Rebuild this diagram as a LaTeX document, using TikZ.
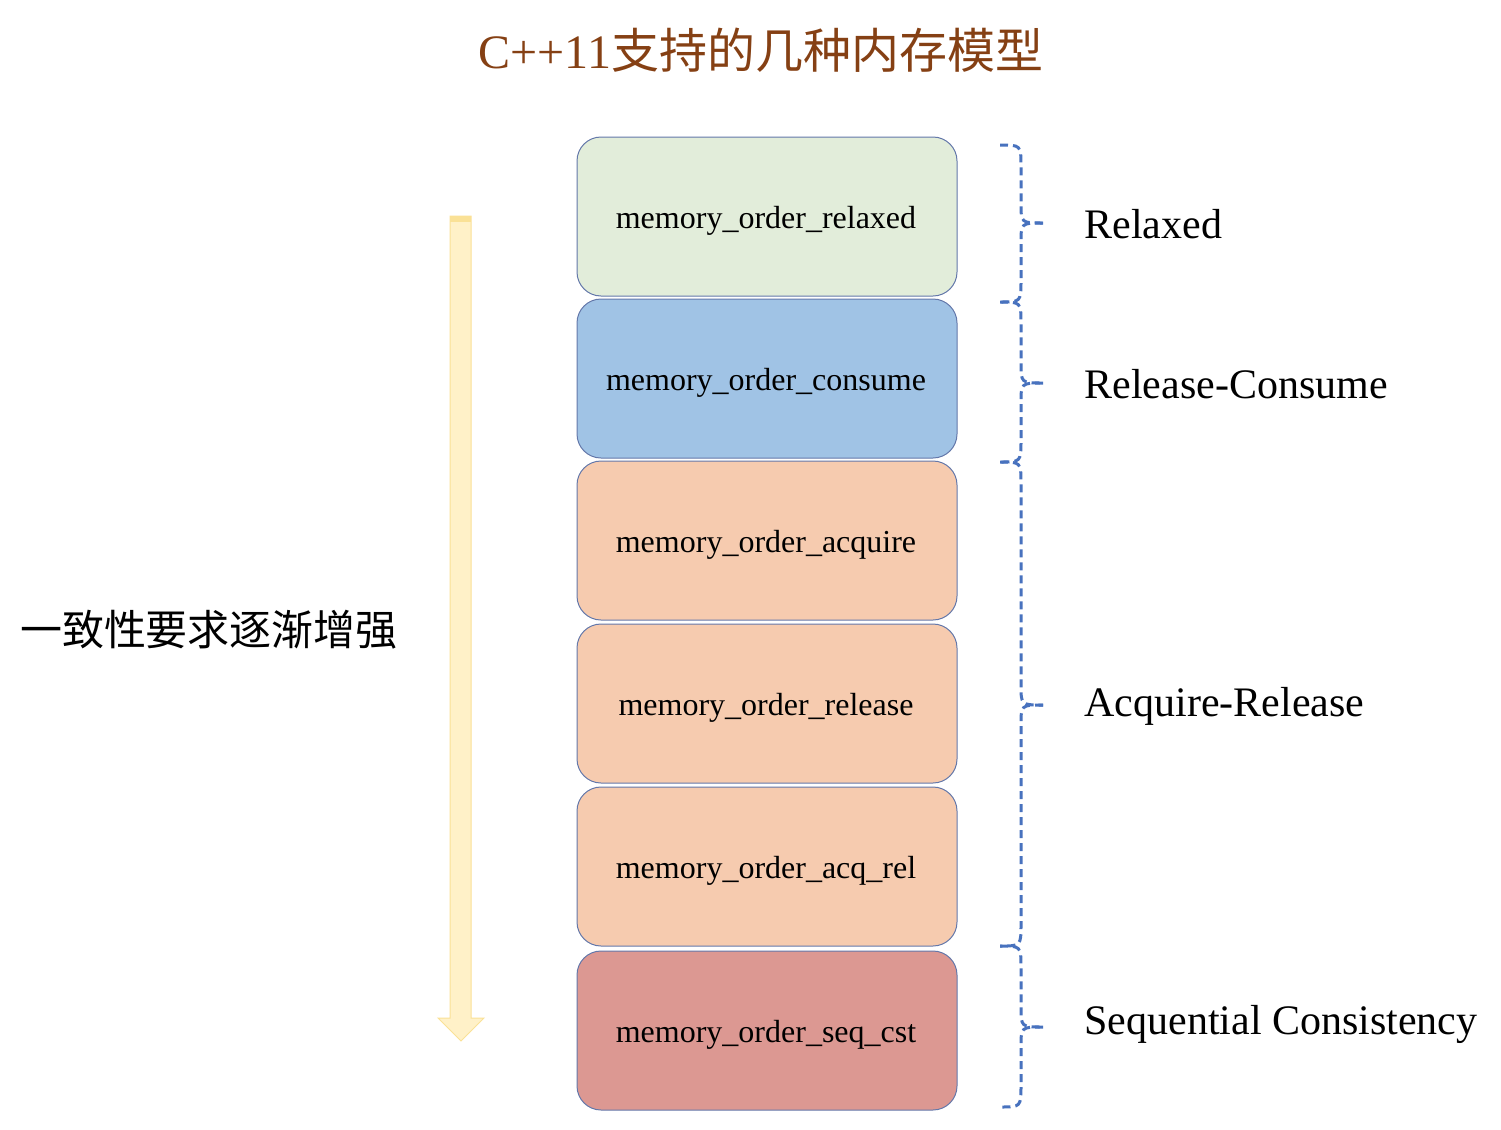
\documentclass[tikz,border=0pt]{standalone}
\usepackage{fontspec}
\setmainfont{Liberation Serif}
\newfontfamily\cjk{Noto Sans CJK SC}
\definecolor{titlebrown}{RGB}{133,64,20}
\definecolor{gfill}{RGB}{226,237,218}
\definecolor{bfill}{RGB}{160,195,229}
\definecolor{pfill}{RGB}{246,203,175}
\definecolor{rfill}{RGB}{220,152,146}
\definecolor{boxline}{RGB}{100,120,170}
\definecolor{bracec}{RGB}{72,114,190}
\definecolor{arrfill}{RGB}{255,241,200}
\definecolor{arrline}{RGB}{250,225,150}
\begin{document}
\begin{tikzpicture}[x=0.5pt,y=-0.5pt,
  membox/.style={draw=boxline, line width=0.5pt, rounded corners=12pt, minimum width=190pt, minimum height=79.5pt, inner sep=0pt},
  boxtext/.style={inner sep=0pt, font=\fontsize{16}{18}\selectfont},
  bracepath/.style={draw=bracec, line width=1.5pt, dash pattern=on 4pt off 2.5pt},
  grplabel/.style={anchor=west, font=\fontsize{21}{24}\selectfont, inner sep=0pt}]
\useasboundingbox (0,0) rectangle (1501,1130);
% title
\node[text=titlebrown, font=\fontsize{24}{28}\selectfont] (title) at (761,50) {C++11{\cjk 支持的几种内存模型}};
% arrow
\coordinate (atip) at (461,1041);
\fill[arrfill] (450,216) -- (471,216) -- (471,1018) -- (484,1018) -- (atip) -- (438,1018) -- (450,1018) -- cycle;
\draw[arrline, line width=0.5pt] (450,216) -- (471,216) -- (471,1018) -- (484,1018) -- (atip) -- (438,1018) -- (450,1018) -- cycle;
\fill[arrline] (450,216) rectangle (471,222);
\node[font=\cjk\fontsize{21}{24}\selectfont, inner sep=0pt] (lbl) at (209,630) {一致性要求逐渐增强};
% boxes
\node[membox, fill=gfill] (b1) at (767,216.5) {};
\node[membox, fill=bfill] (b2) at (767,378.5) {};
\node[membox, fill=pfill] (b3) at (767,540.5) {};
\node[membox, fill=pfill] (b4) at (767,703.5) {};
\node[membox, fill=pfill] (b5) at (767,866.5) {};
\node[membox, fill=rfill] (b6) at (767,1030.5) {};
\node[boxtext] (t1) at (766,221) {memory\_order\_relaxed};
\node[boxtext] (t2) at (766,383) {memory\_order\_consume};
\node[boxtext] (t3) at (766,545) {memory\_order\_acquire};
\node[boxtext] (t4) at (766,708) {memory\_order\_release};
\node[boxtext] (t5) at (766,871) {memory\_order\_acq\_rel};
\node[boxtext] (t6) at (766,1035) {memory\_order\_seq\_cst};
% braces
\newcommand{\mybrace}[3]{%
  \draw[bracepath] (1000,#1) .. controls (1021,#1) .. (1021,#1+22) -- (1021,#2-20)
     .. controls (1021,#2) .. (1043,#2);
  \draw[bracepath] (1043,#2) .. controls (1021,#2) .. (1021,#2+20) -- (1021,#3-22)
     .. controls (1021,#3) .. (1000,#3);}
\mybrace{145}{223}{302}
\mybrace{302}{383}{462}
\mybrace{462}{705}{946}
\mybrace{946}{1027}{1107}
\node[grplabel] (g1) at (1084,224) {Relaxed};
\node[grplabel] (g2) at (1084,384) {Release-Consume};
\node[grplabel] (g3) at (1084,706) {Acquire-Release};
\node[grplabel] (g4) at (1084,1024) {Sequential Consistency};
\end{tikzpicture}
\end{document}
